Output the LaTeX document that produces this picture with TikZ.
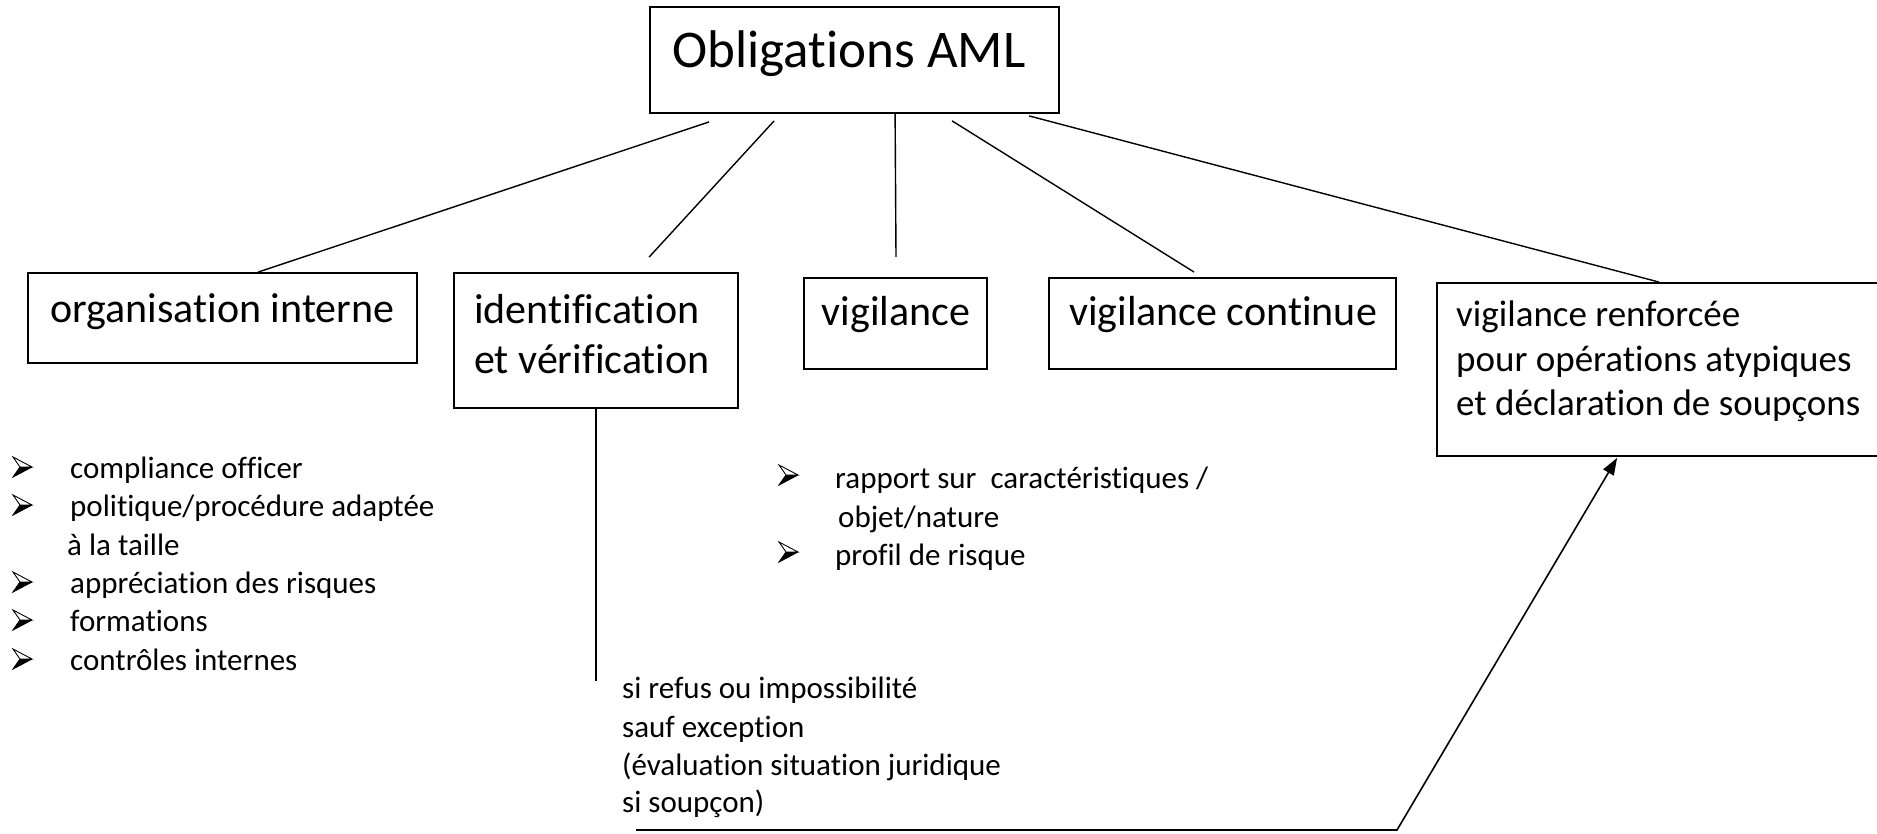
\documentclass[tikz,border=0pt]{standalone}
\usepackage{fontspec}
\setmainfont[Ligatures=CommonOff]{Carlito}
\usetikzlibrary{arrows.meta,calc}
\begin{document}
\begin{tikzpicture}[x=1pt,y=-1pt,
  box/.style={draw,line width=1.8pt,inner sep=0pt,anchor=center},
  conn/.style={line width=1.4pt},
  tbig/.style={font=\fontsize{53}{64}\selectfont,inner sep=0pt},
  tbox/.style={font=\fontsize{42}{50}\selectfont,inner sep=0pt},
  tren/.style={font=\fontsize{37}{44}\selectfont,inner sep=0pt},
  tlist/.style={font=\fontsize{31}{38}\selectfont,inner sep=0pt,anchor=base west},
  bullet/.pic={
    \fill (7,-11) -- (19,-11) -- (0,-1) -- cycle;
    \draw[line width=0.9pt,line join=miter] (0,-21) -- (19,-11) -- (7,-11) -- cycle;
    \draw[line width=0.9pt,line join=miter] (7,-11) -- (0,-1) -- (19,-11);
  }]
\useasboundingbox (0,0) rectangle (1877,833);

% boxes
\node[box,minimum width=409pt,minimum height=106pt] (top) at (854.5,60) {};
\node[box,minimum width=389pt,minimum height=90pt] (org) at (222.5,318) {};
\node[box,minimum width=284pt,minimum height=135pt] (ident) at (596,340.5) {};
\node[box,minimum width=183pt,minimum height=91pt] (vig) at (895.5,323.5) {};
\node[box,minimum width=347pt,minimum height=91pt] (vcont) at (1222.5,323.5) {};
\node[box,minimum width=446pt,minimum height=173pt] (renf) at (1660,369.5) {};

% box texts
\node[tbig,anchor=base] (topT) at (849,67) {Obligations AML};
\node[tbox,anchor=base] (orgT) at (222.5,322) {organisation interne};
\node[tbox,anchor=base west] (identT1) at (474,323) {identification};
\node[tbox,anchor=base west] (identT2) at (474,373) {et vérification};
\node[tbox,anchor=base] (vigT) at (896,325) {vigilance};
\node[tbox,anchor=base] (vcontT) at (1223,325) {vigilance continue};
\node[tren,anchor=base west] (renfT1) at (1456,326) {vigilance renforcée};
\node[tren,anchor=base west] (renfT2) at (1456,371) {pour opérations atypiques};
\node[tren,anchor=base west] (renfT3) at (1456,415) {et déclaration de soupçons};

% connectors from the top box
\draw[conn] ($(top.south west)+(60,8)$) -- ($(org.north west)+(231,0)$);
\draw[conn] ($(top.south west)+(125,7)$) -- ($(ident.north west)+(196,-15)$);
\draw[conn] ($(top.south west)+(246,0)$) -- ($(vig.north)+(0.5,-20)$);
\draw[conn] ($(top.south west)+(303,7)$) -- ($(vcont.north west)+(146,-5)$);
\draw[conn] ($(top.south west)+(380,2)$) -- ($(renf.north west)+(223,0)$);

% left list
\pic at (13,478) {bullet};
\node[tlist] (l1) at (70,478) {compliance officer};
\pic at (13,516) {bullet};
\node[tlist] (l2) at (70,516) {politique/procédure adaptée};
\node[tlist] (l3) at (67,555) {à la taille};
\pic at (13,593) {bullet};
\node[tlist] (l4) at (70,593) {appréciation des risques};
\pic at (13,631) {bullet};
\node[tlist] (l5) at (70,631) {formations};
\pic at (13,670) {bullet};
\node[tlist] (l6) at (70,670) {contrôles internes};

% middle list
\pic at (779,486) {bullet};
\node[tlist] (m1) at (835,488) {rapport sur\ \ caractéristiques /};
\node[tlist] (m2) at (838,527) {objet/nature};
\pic at (779,563) {bullet};
\node[tlist] (m3) at (835,565) {profil de risque};

% vertical line below identification
\coordinate (vend) at ($(ident.south)+(0,272)$);
\draw[conn] (ident.south) -- (vend);

% bottom text
\node[tlist] (s1) at (622,698) {si refus ou impossibilité};
\node[tlist] (s2) at (622,737) {sauf exception};
\node[tlist] (s3) at (622,775) {(évaluation situation juridique};
\node[tlist] (s4) at (622,812) {si soupçon)};

% arrow to renforcée box
\coordinate (hstart) at (636,830);
\coordinate (hcorner) at (1397,830);
\draw[line width=1.6pt,-{Triangle[length=17pt,width=12pt]}] (hstart) -- (hcorner) -- ($(renf.south west)+(181,1)$);
\end{tikzpicture}
\end{document}
